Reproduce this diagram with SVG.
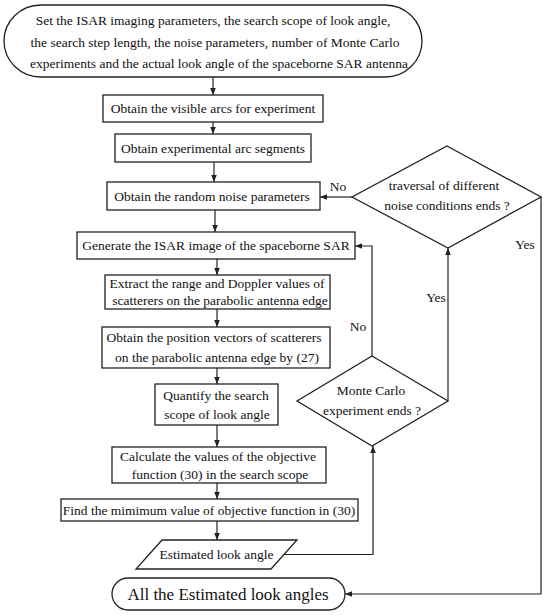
<svg xmlns="http://www.w3.org/2000/svg" width="550" height="616" viewBox="0 0 550 616">
<style>
.s{fill:#fff;stroke:#222;stroke-width:1.3}
.c{fill:none;stroke:#222;stroke-width:1.2}
text{font-family:"Liberation Serif","DejaVu Serif",serif;font-size:13.5px;fill:#111;text-anchor:middle}
.big{font-size:17px}
</style>
<defs>
<marker id="ah" viewBox="0 0 8 8" refX="8" refY="4" markerWidth="7" markerHeight="7" markerUnits="userSpaceOnUse" orient="auto">
<path d="M0,0.8 L8,4 L0,7.2 Z" fill="#222"/>
</marker>
</defs>
<rect width="550" height="616" fill="#fff"/>
<g id="connectors">
<line class="c" x1="213" y1="77" x2="213" y2="95" marker-end="url(#ah)"/>
<line class="c" x1="213" y1="122" x2="213" y2="134" marker-end="url(#ah)"/>
<line class="c" x1="214" y1="162" x2="214" y2="182" marker-end="url(#ah)"/>
<line class="c" x1="215" y1="210" x2="215" y2="232" marker-end="url(#ah)"/>
<line class="c" x1="217" y1="259" x2="217" y2="275" marker-end="url(#ah)"/>
<line class="c" x1="217" y1="309" x2="217" y2="327" marker-end="url(#ah)"/>
<line class="c" x1="217" y1="368" x2="217" y2="384" marker-end="url(#ah)"/>
<line class="c" x1="217" y1="425" x2="217" y2="447" marker-end="url(#ah)"/>
<line class="c" x1="217" y1="483" x2="217" y2="499" marker-end="url(#ah)"/>
<line class="c" x1="217" y1="521" x2="217" y2="540" marker-end="url(#ah)"/>
<polyline class="c" points="284,554.5 373,554.5 373,446" marker-end="url(#ah)"/>
<polyline class="c" points="372,356 372,246 355,246" marker-end="url(#ah)"/>
<line class="c" x1="448" y1="401" x2="448" y2="248" marker-end="url(#ah)"/>
<line class="c" x1="352" y1="197" x2="320" y2="197" marker-end="url(#ah)"/>
<polyline class="c" points="541,197 541,594 345,594" marker-end="url(#ah)"/>
<text x="338" y="191">No</text>
<text x="525" y="249">Yes</text>
<text x="436" y="302">Yes</text>
<text x="358" y="331">No</text>
</g>
<g id="start">
<rect class="s" x="4" y="5" width="418" height="72" rx="37" ry="37"/>
<text x="213" y="25">Set the ISAR imaging parameters, the search scope of look angle,</text>
<text x="215" y="47">the search step length, the noise parameters, number of Monte Carlo</text>
<text x="219" y="68">experiments and the actual look angle of the spaceborne SAR antenna</text>
</g>
<g id="visible-arcs">
<rect class="s" x="103" y="95" width="220" height="27"/>
<text x="213" y="113">Obtain the visible arcs for experiment</text>
</g>
<g id="arc-segments">
<rect class="s" x="115" y="134" width="196" height="28"/>
<text x="213" y="152.5">Obtain experimental arc segments</text>
</g>
<g id="noise-params">
<rect class="s" x="107" y="182" width="213" height="28"/>
<text x="212" y="200.5">Obtain the random noise parameters</text>
</g>
<g id="generate-isar">
<rect class="s" x="77" y="232" width="278" height="27"/>
<text x="216" y="250">Generate the ISAR image of the spaceborne SAR</text>
</g>
<g id="extract">
<rect class="s" x="105" y="275" width="225" height="34"/>
<text x="217" y="288">Extract the range and Doppler values of</text>
<text x="220" y="305">scatterers on the parabolic antenna edge</text>
</g>
<g id="position-vectors">
<rect class="s" x="102" y="327" width="228" height="41"/>
<text x="214" y="342">Obtain the position vectors of scatterers</text>
<text x="217" y="362">on the parabolic antenna edge by (27)</text>
</g>
<g id="quantify">
<rect class="s" x="155" y="384" width="123" height="41"/>
<text x="216" y="400">Quantify the search</text>
<text x="217" y="419">scope of look angle</text>
</g>
<g id="calculate">
<rect class="s" x="112" y="447" width="214" height="36"/>
<text x="218" y="461">Calculate the values of the objective</text>
<text x="220" y="479">function (30) in the search scope</text>
</g>
<g id="find-min">
<rect class="s" x="61" y="499" width="297" height="22"/>
<text x="209" y="514.5">Find the mimimum value of objective function in (30)</text>
</g>
<g id="estimated">
<polygon class="s" points="162,540 297,540 271,569 136,569"/>
<text x="216.5" y="559">Estimated look angle</text>
</g>
<g id="end">
<rect class="s" x="112" y="578" width="233" height="32" rx="16" ry="16"/>
<text class="big" x="228" y="600">All the Estimated look angles</text>
</g>
<g id="traversal">
<polygon class="s" points="447,146 541,197 448,248 352,197"/>
<text x="444" y="190">traversal of different</text>
<text x="447" y="210">noise conditions ends ?</text>
</g>
<g id="monte-carlo">
<polygon class="s" points="372,356 448,401 372,446 297,401"/>
<text x="371" y="395">Monte Carlo</text>
<text x="372" y="415">experiment ends ?</text>
</g>
</svg>
